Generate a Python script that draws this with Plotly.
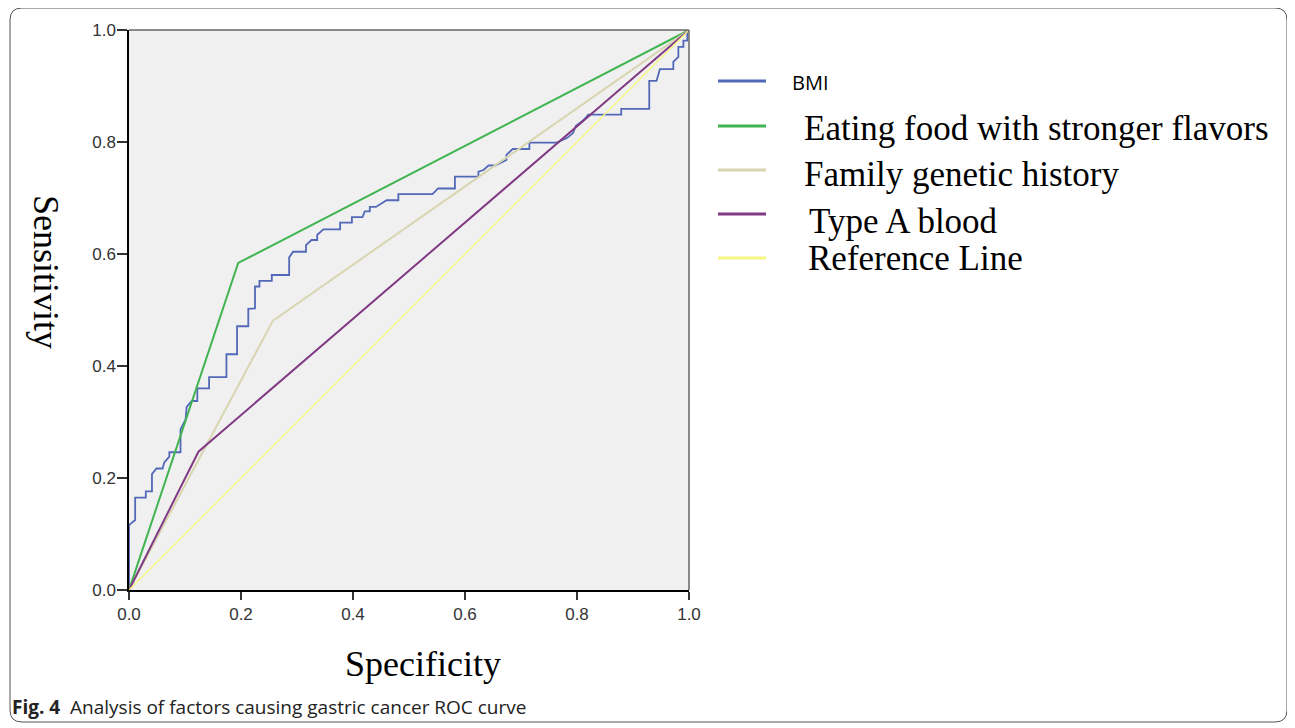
import plotly.graph_objects as go

# ---- data ----
bmi_x = [0, 0, 0.011, 0.011, 0.030, 0.030, 0.041, 0.041, 0.049, 0.060, 0.063, 0.072, 0.072, 0.092, 0.092,
         0.101, 0.103, 0.112, 0.122, 0.122, 0.143, 0.143, 0.174, 0.174, 0.193, 0.193, 0.213, 0.213, 0.225,
         0.225, 0.233, 0.233, 0.255, 0.255, 0.286, 0.286, 0.293, 0.316, 0.316, 0.326, 0.336, 0.336, 0.347,
         0.377, 0.377, 0.398, 0.398, 0.417, 0.421, 0.430, 0.430, 0.441, 0.460, 0.481, 0.481, 0.542, 0.552,
         0.582, 0.582, 0.624, 0.624, 0.633, 0.642, 0.654, 0.674, 0.674, 0.685, 0.715, 0.715, 0.764, 0.782,
         0.793, 0.798, 0.808, 0.817, 0.820, 0.879, 0.879, 0.929, 0.929, 0.942, 0.948, 0.972, 0.972, 0.981,
         0.981, 0.990, 0.990, 0.997, 0.997, 1.0]
bmi_y = [0, 0.116, 0.125, 0.165, 0.165, 0.176, 0.176, 0.207, 0.217, 0.217, 0.228, 0.238, 0.246, 0.246, 0.287,
         0.304, 0.327, 0.3375, 0.3375, 0.360, 0.360, 0.380, 0.380, 0.421, 0.421, 0.471, 0.471, 0.502, 0.503,
         0.542, 0.542, 0.552, 0.552, 0.5625, 0.5625, 0.594, 0.604, 0.604, 0.616, 0.625, 0.625, 0.634, 0.644,
         0.644, 0.656, 0.656, 0.666, 0.666, 0.676, 0.676, 0.684, 0.684, 0.696, 0.696, 0.707, 0.707, 0.717,
         0.717, 0.738, 0.738, 0.747, 0.750, 0.758, 0.758, 0.768, 0.777, 0.7875, 0.7875, 0.799, 0.799, 0.807,
         0.816, 0.829, 0.836, 0.845, 0.849, 0.849, 0.859, 0.859, 0.909, 0.909, 0.930, 0.930, 0.943, 0.952,
         0.970, 0.970, 0.981, 0.981, 1.0, 1.0]
flavor_x = [0, 0.195, 1]
flavor_y = [0, 0.584, 1]
family_x = [0, 0.257, 1]
family_y = [0, 0.481, 1]
blood_x = [0, 0.124, 1]
blood_y = [0, 0.247, 1]
ref_x = [0, 1]
ref_y = [0, 1]

series_names = ["BMI", "Eating food with stronger flavors", "Family genetic history",
                "Type A blood", "Reference Line"]
colors = ["rgb(82,104,184)", "rgb(64,180,80)", "rgb(216,213,176)", "rgb(128,58,132)", "rgb(246,246,130)"]
widths = [1.8, 2, 2, 2, 1.4]
xs = [bmi_x, flavor_x, family_x, blood_x, ref_x]
ys = [bmi_y, flavor_y, family_y, blood_y, ref_y]
tick_vals = [0.0, 0.2, 0.4, 0.6, 0.8, 1.0]

fig = go.Figure()
for n, c, w, x, y in zip(series_names, colors, widths, xs, ys):
    fig.add_trace(go.Scatter(x=x, y=y, mode="lines", name=n,
                             line=dict(color=c, width=w), showlegend=False))

# the page body has an 8px margin; screen plot area is 129..689 x 30..590
OFF = 8
W, H = 1295 - OFF, 728 - OFF
L, T, S = 129, 30, 560
def px(x):
    return (x - L) / S
def py(y):
    return (T + S - y) / S

axis_common = dict(range=[0, 1], tickvals=tick_vals, tickformat=".1f", showgrid=False, zeroline=False,
                   showline=True, linecolor="black", linewidth=1.5, ticks="outside",
                   tickcolor="#333", tickwidth=1.5,
                   tickfont=dict(family="Liberation Sans, Arial", size=17, color="#333"))
fig.update_layout(
    width=W, height=H,
    margin=dict(l=L - OFF, r=W - (L - OFF) - S, t=T - OFF, b=H - (T - OFF) - S, pad=0),
    paper_bgcolor="white", plot_bgcolor="#f0f0f0",
    xaxis=dict(**axis_common, ticklen=8),
    yaxis=dict(**axis_common, ticklen=10, ticklabelstandoff=-2),
)

shapes = []
# top/right gray plot border
shapes.append(dict(type="line", xref="paper", yref="paper", x0=0, x1=1, y0=1, y1=1,
                   line=dict(color="#666", width=1.5)))
shapes.append(dict(type="line", xref="paper", yref="paper", x0=1, x1=1, y0=0, y1=1,
                   line=dict(color="#666", width=1.5)))
# rounded outer frame
x0, x1, y0, y1, r = px(10), px(1287), py(722), py(8), 12 / S
path = (f"M {x0+r},{y1} L {x1-r},{y1} Q {x1},{y1} {x1},{y1-r} L {x1},{y0+r} Q {x1},{y0} {x1-r},{y0} "
        f"L {x0+r},{y0} Q {x0},{y0} {x0},{y0+r} L {x0},{y1-r} Q {x0},{y1} {x0+r},{y1} Z")
shapes.append(dict(type="path", xref="paper", yref="paper", path=path,
                   line=dict(color="#555", width=1)))

# manual legend
leg_line_y = [81, 126, 170, 214, 258]
leg_text_y = [82, 128, 174, 221, 258]
leg_text_x = [790, 802, 802, 807, 806]
leg_fonts = [dict(family="Open Sans, Noto Sans", size=20, color="black")] + \
            [dict(family="Liberation Serif, Times New Roman", size=35, color="black")] * 4
annotations = []
for n, c, ly, ty, tx, f in zip(series_names, colors, leg_line_y, leg_text_y, leg_text_x, leg_fonts):
    shapes.append(dict(type="line", xref="paper", yref="paper", x0=px(718), x1=px(766), y0=py(ly), y1=py(ly),
                       line=dict(color=c, width=3)))
    annotations.append(dict(xref="paper", yref="paper", x=px(tx), y=py(ty), text=n, showarrow=False,
                            xanchor="left", yanchor="middle", font=f))

annotations.append(dict(xref="paper", yref="paper", x=px(46), y=py(272), text="Sensitivity", textangle=90,
                        showarrow=False, xanchor="center", yanchor="middle",
                        font=dict(family="Liberation Serif, Times New Roman", size=36, color="black")))
annotations.append(dict(xref="paper", yref="paper", x=px(423), y=py(664), text="Specificity",
                        showarrow=False, xanchor="center", yanchor="middle",
                        font=dict(family="Liberation Serif, Times New Roman", size=36, color="black")))
annotations.append(dict(xref="paper", yref="paper", x=px(10), y=py(707),
                        text="<b>Fig. 4</b>  Analysis of factors causing gastric cancer ROC curve",
                        showarrow=False, xanchor="left", yanchor="middle",
                        font=dict(family="Open Sans, Noto Sans", size=19, color="#222")))

fig.update_layout(shapes=shapes, annotations=annotations)
fig.write_html("out.html")
